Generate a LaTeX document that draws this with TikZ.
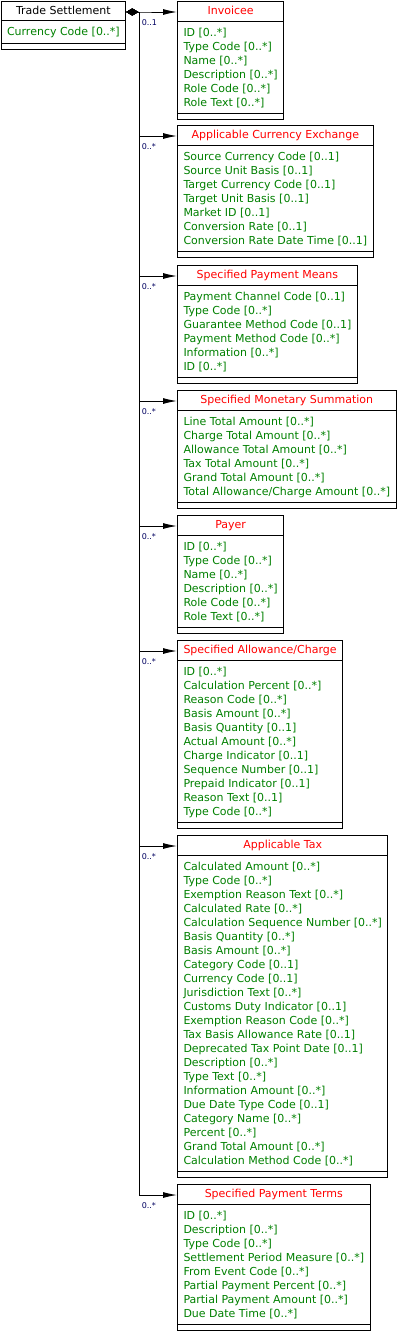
\documentclass[tikz,border=0pt]{standalone}
\usepackage{fontspec}
\setmainfont{DejaVu Sans}
\usetikzlibrary{shapes.multipart,arrows.meta,positioning}

\definecolor{umlred}{RGB}{255,0,0}
\definecolor{umlgreen}{RGB}{0,128,0}
\definecolor{umlnavy}{RGB}{0,0,96}
\newcommand{\headstrut}{\rule[-3.5pt]{0pt}{13.5pt}}
\newcommand{\nobody}{\rule{1pt}{0pt}}
\newenvironment{attrlist}{\begin{tabular}{@{}l@{}}\noalign{\vskip2.5pt}}{\end{tabular}}

\begin{document}
\begin{tikzpicture}[x=1pt,y=-1pt,
  class/.style={draw, line width=1pt, rectangle split, rectangle split parts=3,
    rectangle split part align={center,left,left},
    inner xsep=6pt, inner ysep=2.5pt, anchor=north west, text=umlgreen,
    font=\fontsize{11}{14}\selectfont},
  owns/.style={line width=1pt, {Diamond[length=12pt,width=7pt]}-{Latex[length=14pt,width=6pt]}},
  mult/.style={font=\fontsize{8}{9}\selectfont, text=umlnavy, anchor=north west,
    inner sep=0pt, xshift=2pt, yshift=-7pt}]
\useasboundingbox (0,0) rectangle (405,1344);

% Trade Settlement (owner)
\node[class] (ts) at (0.5,0.5) {\headstrut\color{black}Trade Settlement
  \nodepart{second}\begin{attrlist}Currency Code [0..*]\end{attrlist}
  \nodepart{third}\nobody};

% owned classes
\node[class] (inv) at (177,1) {\headstrut\color{umlred}Invoicee
  \nodepart{second}\begin{attrlist}
  ID [0..*]\\ Type Code [0..*]\\ Name [0..*]\\ Description [0..*]\\
  Role Code [0..*]\\ Role Text [0..*]\end{attrlist}
  \nodepart{third}\nobody};

\node[class] (ace) at (177,125) {\headstrut\color{umlred}Applicable Currency Exchange
  \nodepart{second}\begin{attrlist}
  Source Currency Code [0..1]\\ Source Unit Basis [0..1]\\ Target Currency Code [0..1]\\
  Target Unit Basis [0..1]\\ Market ID [0..1]\\ Conversion Rate [0..1]\\
  Conversion Rate Date Time [0..1]\end{attrlist}
  \nodepart{third}\nobody};

\node[class] (spm) at (177,265) {\headstrut\color{umlred}Specified Payment Means
  \nodepart{second}\begin{attrlist}
  Payment Channel Code [0..1]\\ Type Code [0..*]\\ Guarantee Method Code [0..1]\\
  Payment Method Code [0..*]\\ Information [0..*]\\ ID [0..*]\end{attrlist}
  \nodepart{third}\nobody};

\node[class] (sms) at (177,390) {\headstrut\color{umlred}Specified Monetary Summation
  \nodepart{second}\begin{attrlist}
  Line Total Amount [0..*]\\ Charge Total Amount [0..*]\\ Allowance Total Amount [0..*]\\
  Tax Total Amount [0..*]\\ Grand Total Amount [0..*]\\
  Total Allowance/Charge Amount [0..*]\end{attrlist}
  \nodepart{third}\nobody};

\node[class] (payer) at (177,515) {\headstrut\color{umlred}Payer
  \nodepart{second}\begin{attrlist}
  ID [0..*]\\ Type Code [0..*]\\ Name [0..*]\\ Description [0..*]\\
  Role Code [0..*]\\ Role Text [0..*]\end{attrlist}
  \nodepart{third}\nobody};

\node[class] (sac) at (177,640) {\headstrut\color{umlred}Specified Allowance/Charge
  \nodepart{second}\begin{attrlist}
  ID [0..*]\\ Calculation Percent [0..*]\\ Reason Code [0..*]\\ Basis Amount [0..*]\\
  Basis Quantity [0..1]\\ Actual Amount [0..*]\\ Charge Indicator [0..1]\\
  Sequence Number [0..1]\\ Prepaid Indicator [0..1]\\ Reason Text [0..1]\\
  Type Code [0..*]\end{attrlist}
  \nodepart{third}\nobody};

\node[class] (tax) at (177,835) {\headstrut\color{umlred}Applicable Tax
  \nodepart{second}\begin{attrlist}
  Calculated Amount [0..*]\\ Type Code [0..*]\\ Exemption Reason Text [0..*]\\
  Calculated Rate [0..*]\\ Calculation Sequence Number [0..*]\\ Basis Quantity [0..*]\\
  Basis Amount [0..*]\\ Category Code [0..1]\\ Currency Code [0..1]\\
  Jurisdiction Text [0..*]\\ Customs Duty Indicator [0..1]\\ Exemption Reason Code [0..*]\\
  Tax Basis Allowance Rate [0..1]\\ Deprecated Tax Point Date [0..1]\\ Description [0..*]\\
  Type Text [0..*]\\ Information Amount [0..*]\\ Due Date Type Code [0..1]\\
  Category Name [0..*]\\ Percent [0..*]\\ Grand Total Amount [0..*]\\
  Calculation Method Code [0..*]\end{attrlist}
  \nodepart{third}\nobody};

\node[class] (spt) at (177,1184) {\headstrut\color{umlred}Specified Payment Terms
  \nodepart{second}\begin{attrlist}
  ID [0..*]\\ Description [0..*]\\ Type Code [0..*]\\ Settlement Period Measure [0..*]\\
  From Event Code [0..*]\\ Partial Payment Percent [0..*]\\ Partial Payment Amount [0..*]\\
  Due Date Time [0..*]\end{attrlist}
  \nodepart{third}\nobody};

% composition links
\coordinate (hub) at ([yshift=-11.5pt]ts.north east);
\coordinate (bus) at ([xshift=13pt]hub);
\draw[owns] (hub) -- (bus) |- ([yshift=-11pt]inv.north west) node[mult, pos=0.5] {0..1};
\foreach \part in {ace,spm,sms,payer,sac,tax,spt}
  \draw[owns] (hub) -- (bus) |- ([yshift=-11pt]\part.north west) node[mult, pos=0.5] {0..*};
\end{tikzpicture}
\end{document}
